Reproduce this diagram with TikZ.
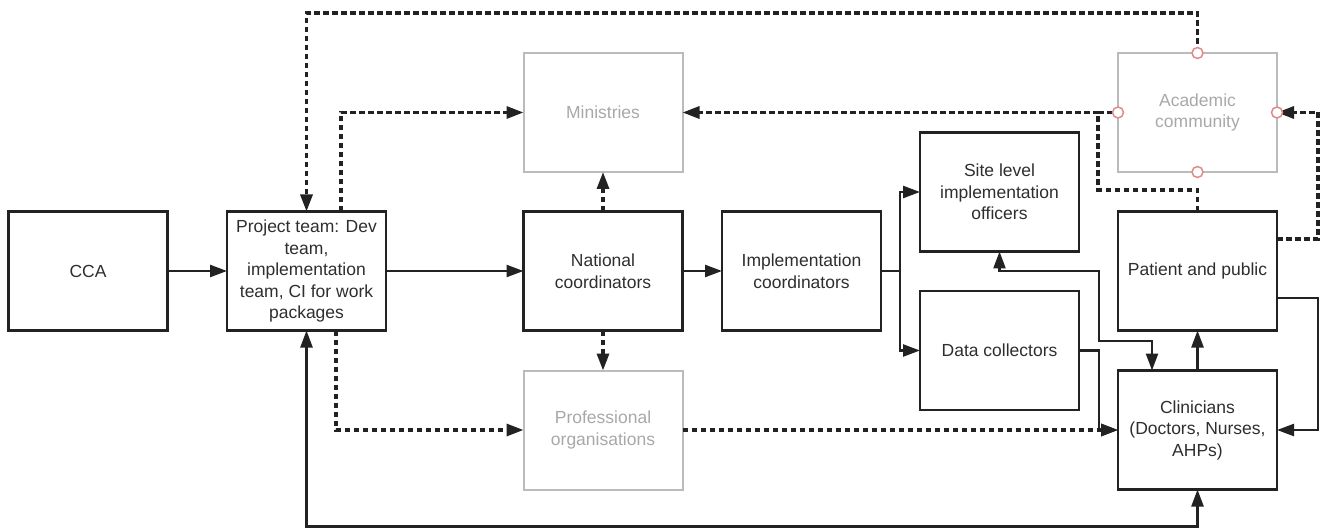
\documentclass[tikz,border=0pt]{standalone}
\usepackage{fontspec}
\setmainfont{Liberation Sans}
\usetikzlibrary{arrows.meta}
\definecolor{ink}{HTML}{222222}
\definecolor{txt}{HTML}{2E2E2E}
\definecolor{pale}{HTML}{BBBBBB}
\definecolor{paletxt}{HTML}{A8A8A8}
\definecolor{marker}{HTML}{E08A8A}
\tikzset{
  box/.style={draw=ink, line width=2.6pt, minimum width=159pt, minimum height=119pt,
    align=center, text=txt, inner sep=2pt, outer sep=0pt,
    font=\fontsize{17.5}{21.5}\selectfont},
  palebox/.style={box, draw=pale, line width=2pt, text=paletxt},
  tip/.style={-{Triangle[length=17pt,width=12pt]}},
  bitip/.style={{Triangle[length=17pt,width=12pt]}-{Triangle[length=17pt,width=12pt]}},
  solidline/.style={draw=ink, line width=2.4pt},
  dashline/.style={draw=ink, line width=3.2pt, dash pattern=on 5.5pt off 3.5pt},
  mk/.style={circle, draw=marker, fill=white, line width=1.5pt, minimum size=11pt, inner sep=0pt}
}
\begin{document}
\begin{tikzpicture}[x=1pt,y=-1pt]
\useasboundingbox (0,0) rectangle (1330,529);
% nodes
\node[box] (cca)  at (88,271) {CCA};
\node[box] (proj) at (306.5,271) {Project team: Dev\\team,\\implementation\\team, CI for work\\packages};
\node[palebox] (min) at (603,112.5) {Ministries};
\node[box] (nat) at (603,271) {National\\coordinators};
\node[palebox] (prof) at (603,430) {Professional\\organisations};
\node[box] (impl) at (801.5,271) {Implementation\\coordinators};
\node[box] (site) at (999.5,192) {Site level\\implementation\\officers};
\node[box] (data) at (999.5,350.5) {Data collectors};
\node[palebox] (acad) at (1197.5,112.5) {Academic\\community};
\node[box] (pat) at (1197.5,271) {Patient and public};
\node[box] (clin) at (1197.5,430) {Clinicians\\(Doctors, Nurses,\\AHPs)};
% solid connectors
\draw[solidline, tip] (cca) -- (proj);
\draw[solidline, tip] (proj) -- (nat);
\draw[solidline, tip] (nat) -- (impl);
\coordinate (fork) at (900,271);
\draw[solidline] (impl.east) -- (fork);
\draw[solidline, tip] (fork) |- (site.west);
\draw[solidline, tip] (fork) |- (data.west);
\draw[solidline, tip] (data.east) -- (1099,350.5) |- (clin.west);
\draw[solidline, bitip] (site.south) |- (1099,271) |- (1152,341) -- ([xshift=-45.5pt]clin.north);
\draw[solidline, tip] (clin.north) -- (pat.south);
\draw[solidline, tip] ([yshift=-27pt]pat.east) -- (1318,298) |- (clin.east);
\draw[solidline, bitip] (proj.south) -- (306.5,526.5) -| (clin.south);
% dashed connectors
\draw[dashline, tip] (nat.north) -- (min.south);
\draw[dashline, tip] (nat.south) -- (prof.north);
\draw[dashline, tip] ([xshift=34.5pt]proj.north) |- (min.west);
\draw[dashline, tip] ([xshift=29.5pt]proj.south) |- (prof.west);
\draw[dashline, tip] (acad.north) -- (1197.5,13) -| (proj.north);
\coordinate (j) at (1098,112.5);
\draw[dashline, tip] (pat.north) |- (1098,190) |- (min.east);
\draw[dashline] (j) -- (acad.west);
\draw[dashline, tip] ([yshift=32pt]pat.east) -- (1318,239) |- (acad.east);
\draw[dashline, tip] (prof.east) -- (clin.west);
% markers
\foreach \a in {north,south,east,west} \node[mk] at (acad.\a) {};
\end{tikzpicture}
\end{document}
